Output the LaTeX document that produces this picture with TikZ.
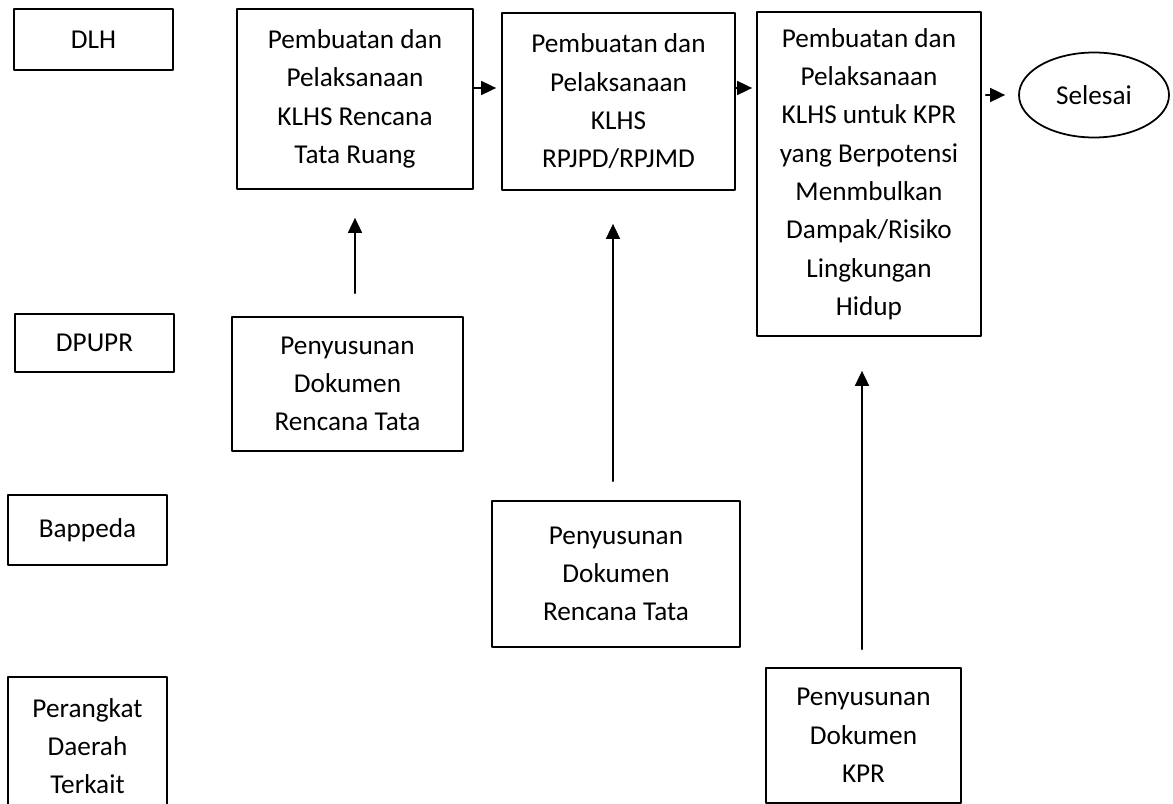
\documentclass[tikz,border=0pt]{standalone}
\usepackage{fontspec}
\setmainfont{Carlito}
\usepackage{tikz}
\usetikzlibrary{arrows.meta,calc,positioning,shapes.geometric}
\tikzset{
  every picture/.append style={line cap=round,line join=round},
  flow text/.style={font=\fontsize{15.5}{21.8}\selectfont,align=center,inner sep=0pt},
  flow box/.style={flow text,draw,line width=1pt,line cap=rect},
  flow unit/.style={flow box},
  flow end/.style={flow text,draw,ellipse,line width=1pt,minimum width=3cm,minimum height=1.7cm},
  flow arrow/.style={line width=1pt,-{Triangle[length=0.3cm,width=0.28cm]}}
}

\begin{document}
\begin{tikzpicture}
  \useasboundingbox (0,0) rectangle (23.46,-16.08);
  \clip (0,0) rectangle (23.46,-16.08);
  % units on the left
  \node[flow unit,minimum width=3.18cm,minimum height=1.22cm] (dlh) at (1.87,-0.79) {DLH};
  \node[flow unit,minimum width=3.18cm,minimum height=1.16cm] (dpupr) at (1.89,-6.86) {DPUPR};
  \node[flow unit,minimum width=3.18cm,minimum height=1.4cm] (bappeda) at (1.75,-10.6) {Bappeda};
  \node[flow unit,minimum width=3.18cm,minimum height=2.76cm] (terkait) at (1.75,-14.92) {Perangkat\\Daerah\\Terkait};
  % KLHS steps
  \node[flow box,minimum width=4.72cm,minimum height=3.6cm] (klhsrt) at (7.10,-1.98)
    {Pembuatan dan\\Pelaksanaan\\KLHS Rencana\\Tata Ruang};
  \node[flow box,minimum width=4.66cm,minimum height=3.54cm] (rpjmd) at (12.37,-2.03)
    {Pembuatan dan\\Pelaksanaan\\KLHS\\RPJPD/RPJMD};
  \node[flow box,minimum width=4.48cm,minimum height=6.48cm] (kprklhs) at (17.38,-3.48)
    {Pembuatan dan\\Pelaksanaan\\KLHS untuk KPR\\yang Berpotensi\\Menmbulkan\\Dampak/Risiko\\Lingkungan\\Hidup};
  \node[flow end] (selesai) at (21.88,-1.90) {Selesai};
  % documents
  \node[flow box,minimum width=4.62cm,minimum height=2.68cm] (rtdoc) at (6.95,-7.68)
    {Penyusunan\\Dokumen\\Rencana Tata};
  \node[flow box,minimum width=4.96cm,minimum height=2.92cm] (rtdocb) at (12.32,-11.48)
    {Penyusunan\\Dokumen\\Rencana Tata};
  \node[flow box,minimum width=3.9cm,minimum height=2.7cm] (kprdoc) at (17.27,-14.71)
    {Penyusunan\\Dokumen\\KPR};

  \draw[flow arrow,shorten >=0.1cm] ([yshift=0.22cm]klhsrt.east) coordinate (a1) -- (a1 -| rpjmd.west);
  \draw[flow arrow,shorten >=0.08cm] ([yshift=0.27cm]rpjmd.east) coordinate (a2) -- (a2 -| kprklhs.west);
  \draw[flow arrow,shorten <=0.08cm,shorten >=0.26cm] (kprklhs.east |- selesai.west) -- (selesai.west);

  \draw[flow arrow,shorten <=0.46cm,shorten >=0.56cm] (rtdoc.north -| klhsrt.south) -- (klhsrt.south);
  \draw[flow arrow,shorten <=0.38cm,shorten >=0.66cm] ([xshift=-0.06cm]rtdocb.north) -- ([xshift=-0.06cm]rtdocb.north |- rpjmd.south);
  \draw[flow arrow,shorten <=0.36cm,shorten >=0.68cm] ([xshift=-0.03cm]kprdoc.north) -- ([xshift=-0.03cm]kprdoc.north |- kprklhs.south);
\end{tikzpicture}
\end{document}
